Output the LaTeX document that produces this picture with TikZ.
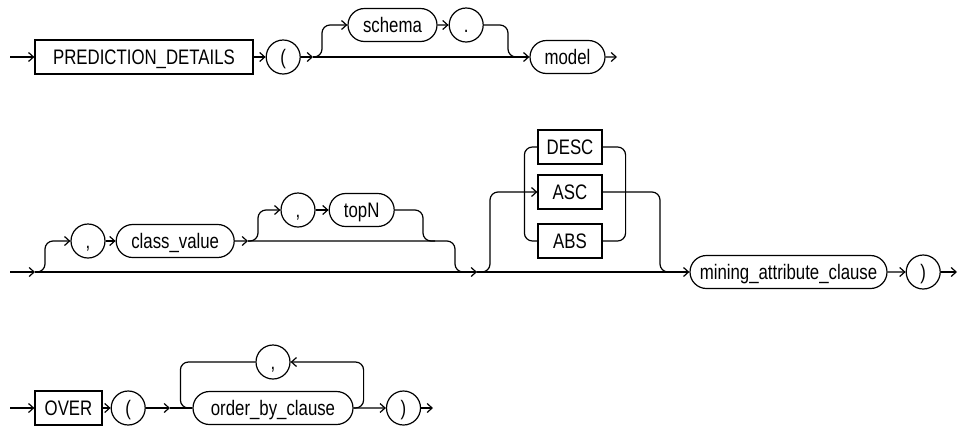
\documentclass[tikz,border=0pt]{standalone}
\usepackage{fontspec}
\setmainfont{Liberation Sans}[FakeStretch=0.8]
\usetikzlibrary{arrows.meta,positioning,shapes.misc}

\begin{document}
\begin{tikzpicture}[
    x=1pt, y=-1pt,
    keyword/.style={rectangle, draw, line width=1.2pt, minimum height=34pt, inner sep=0pt, text height=15pt, text depth=0pt},
    nonterm/.style={rounded rectangle, draw, line width=1.2pt, minimum height=33pt, inner sep=0pt, text height=15pt, text depth=0pt},
    symbol/.style={circle, draw, line width=1.2pt, minimum size=34pt, inner sep=0pt, text height=15pt, text depth=0pt},
    rail/.style={line width=1.2pt, rounded corners=8pt},
    arrow/.style={rail, -{Straight Barb[length=5pt,width=9pt]}},
    every node/.style={font=\fontsize{21}{24}\selectfont}
]
\useasboundingbox (0,0) rectangle (961,429);

% Row 1: function name and model
\coordinate (s1) at (10,57);
\node[keyword, minimum width=218pt] (pred) at (144,57) {PREDICTION\_DETAILS};
\node[symbol, right=12pt of pred] (lp1) {(};
\coordinate (j1) at (313,57);
\node[nonterm, minimum width=89pt] (schema) at (392.5,25) {schema};
\node[symbol, right=11pt of schema] (dot) {.};
\coordinate (m1) at (508,57);
\node[nonterm, minimum width=75pt] (model) at (567.5,57) {model};
\coordinate (e1) at (617,57);

% Row 2: class value, topN, sort order
\coordinate (s2) at (10,272);
\coordinate (j2) at (35,272);
\node[symbol] (comma1) at (88,241) {,};
\node[nonterm, minimum width=118pt, right=10pt of comma1] (cval) {class\_value};
\coordinate (j5) at (248,241);
\node[symbol] (comma2) at (298,210) {,};
\node[nonterm, minimum width=65pt, right=13pt of comma2] (topn) {topN};
\coordinate (m2) at (423,241);
\coordinate (m3) at (455,272);
\coordinate (j3) at (477,272);
\node[keyword, minimum width=64pt] (desc) at (570,147) {DESC};
\node[keyword, minimum width=64pt] (asc) at (570,192) {ASC};
\node[keyword, minimum width=64pt] (absv) at (570,241) {ABS};
\coordinate (m4) at (660,272);
\node[nonterm, minimum width=197pt] (mining) at (788.5,272) {mining\_attribute\_clause};
\node[symbol, right=18pt of mining] (rp2) {)};
\coordinate (e2) at (957,272);

% Row 3: analytic clause
\coordinate (s3) at (10,408);
\node[keyword, minimum width=67pt] (over) at (68.5,408) {OVER};
\node[symbol, right=8pt of over] (lp3) {(};
\coordinate (j7) at (170,408);
\node[nonterm, minimum width=160pt] (orderby) at (273,408) {order\_by\_clause};
\node[symbol] (comma3) at (273,362) {,};
\node[symbol] (rp3) at (403.5,408) {)};
\coordinate (e3) at (433,408);

% Arrows
\draw[arrow] (s1) -- (pred);
\draw[arrow] (pred) -- (lp1);
\draw[arrow] (lp1) -- (j1);
\draw[arrow] (j1) -- ++(9,0) |- (schema.west);
\draw[arrow] (schema) -- (dot);
\draw[rail] (dot.east) -| (m1) -- ++(12,0);
\draw[arrow] (j1) -- (model);
\draw[arrow] (model) -- (e1);

\draw[arrow] (s2) -- (j2);
\draw[arrow] (j2) -- (j3);
\draw[arrow] (j2) -- ++(10,0) |- (comma1.west);
\draw[arrow] (comma1) -- (cval);
\draw[arrow] (cval) -- (j5);
\draw[arrow] (j5) -- ++(10,0) |- (comma2.west);
\draw[arrow] (comma2) -- (topn);
\draw[rail] (topn.east) -| (m2) -- ++(12,0);
\draw[rail] (j5) -| (m3) -- (j3);
\draw[arrow] (j3) -- ++(13,0) |- (asc.west);
\draw[rail] (desc.west) -- ++(-13,0) |- (absv.west);
\draw[rail] (desc.east) -- ++(23,0) |- (absv.east);
\draw[rail] (asc.east) -| (m4) -- ++(13,0);
\draw[arrow] (j3) -- (mining);
\draw[arrow] (mining) -- (rp2);
\draw[arrow] (rp2) -- (e2);

\draw[arrow] (s3) -- (over);
\draw[arrow] (over) -- (lp3);
\draw[arrow] (lp3) -- (j7);
\draw[rail] (j7) -- (orderby);
\draw[arrow] (orderby.east) -- ++(10,0) |- (comma3.east);
\draw[rail] (comma3.west) -- ++(-75,0) |- (orderby.west);
\draw[arrow] (orderby) -- (rp3);
\draw[arrow] (rp3) -- (e3);
\end{tikzpicture}
\end{document}
